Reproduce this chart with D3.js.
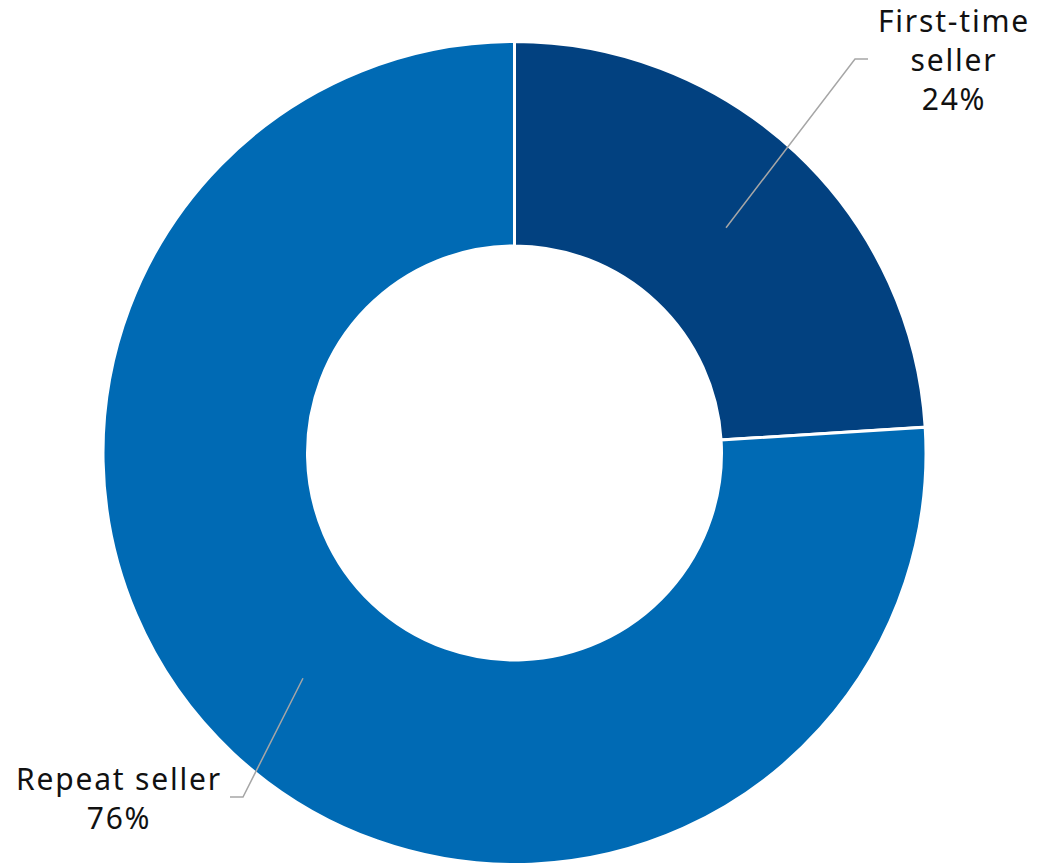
<!DOCTYPE html>
<html><head><meta charset="utf-8">
<script src="https://cdn.jsdelivr.net/npm/d3@7"></script>
<style>body{margin:0;background:#fff}svg{display:block}</style>
</head><body>
<script>
const categories = ["First-time seller", "Repeat seller"];
const values = [24, 76];
const labelLines = [["First-time", "seller", "24%"], ["Repeat seller", "76%"]];
const colors = ["#024180", "#006AB4"];

const W = 1038, H = 863;
const cx = 514.5, cy = 453, R = 411.5, r = 207;
const svg = d3.select("body").append("svg").attr("width", W).attr("height", H);
const g = svg.append("g").attr("transform", `translate(${cx},${cy})`);

const pie = d3.pie().sort(null).value(d => d)(values);
const arc = d3.arc().innerRadius(r).outerRadius(R);
const midArc = d3.arc().innerRadius(309).outerRadius(309);

g.selectAll("path.slice").data(pie).join("path")
  .attr("class", "slice")
  .attr("d", arc)
  .attr("fill", (d, i) => colors[i])
  .attr("stroke", "#fff").attr("stroke-width", 3);

// label layout (elbow points & text anchors relative to center)
const elbows = [[340.5, -394], [-271.5, 344]];
const ends = [[353.5, -394], [-284.5, 344]];
const textPos = [[439.5, -421], [-395.5, 337]];
const lineGap = 39;

pie.forEach((d, i) => {
  const c = midArc.centroid(d);
  g.append("polyline")
    .attr("points", [c, elbows[i], ends[i]].map(p => p.join(",")).join(" "))
    .attr("fill", "none").attr("stroke", "#a6a6a6").attr("stroke-width", 1.5);
  const t = g.append("text")
    .attr("text-anchor", "middle")
    .attr("font-family", "Noto Sans, sans-serif")
    .attr("font-size", 30)
    .attr("letter-spacing", 1.8)
    .attr("fill", "#111");
  labelLines[i].forEach((s, k) => {
    t.append("tspan").attr("x", textPos[i][0]).attr("y", textPos[i][1] + k * lineGap).text(s);
  });
});
</script>
</body></html>
